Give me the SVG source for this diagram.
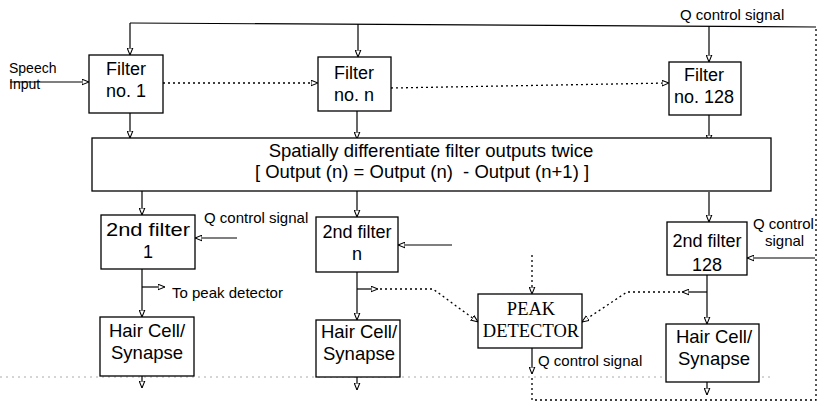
<svg xmlns="http://www.w3.org/2000/svg" width="817" height="403" viewBox="0 0 817 403">
<style>
.box{fill:#fff;stroke:#000;stroke-width:1.3}
.ln{fill:none;stroke:#000;stroke-width:1.2}
.dt{fill:none;stroke:#000;stroke-width:1.3;stroke-dasharray:2,3}
.t{font-family:"Liberation Sans",Arial,sans-serif;font-size:18px;fill:#000;text-anchor:middle}
.h{font-family:"Liberation Sans",Arial,sans-serif;font-size:18.5px;fill:#000;text-anchor:middle}
.s{font-family:"Liberation Sans",Arial,sans-serif;font-size:15px;fill:#000}
.m{font-family:"Liberation Sans",Arial,sans-serif;font-size:18.5px;fill:#000;text-anchor:middle}
.p{font-family:"Liberation Serif","Times New Roman",serif;font-size:18.5px;fill:#000;text-anchor:middle}
</style>
<defs>
<marker id="a" viewBox="0 0 10 10" refX="10" refY="5" markerWidth="7" markerHeight="7" markerUnits="userSpaceOnUse" orient="auto">
<path d="M0,1 L10,5 L0,9 Z" fill="#fff" stroke="#000" stroke-width="1.5"/>
</marker>
</defs>
<line x1="0" y1="377" x2="770" y2="377" stroke="#aaa" stroke-width="1" stroke-dasharray="2,4"/>
<g id="connectors">
<path class="ln" d="M130,23 L816,27"/>
<path class="ln" d="M130,23 V55" marker-end="url(#a)"/>
<path class="ln" d="M358,24 V57" marker-end="url(#a)"/>
<path class="ln" d="M709,26 V62" marker-end="url(#a)"/>
<path class="ln" d="M10,82 H89" marker-end="url(#a)"/>
<path class="dt" d="M163,83 H318" marker-end="url(#a)"/>
<path class="dt" d="M391,88 L669,83" marker-end="url(#a)"/>
<path class="ln" d="M130,113 V138" marker-end="url(#a)"/>
<path class="ln" d="M357,111 V139" marker-end="url(#a)"/>
<path class="ln" d="M709,115 V142" marker-end="url(#a)"/>
<path class="ln" d="M142,190 V215" marker-end="url(#a)"/>
<path class="ln" d="M357,191 V217" marker-end="url(#a)"/>
<path class="ln" d="M709,192 V222" marker-end="url(#a)"/>
<path class="ln" d="M237,238 H195" marker-end="url(#a)"/>
<path class="ln" d="M452,245 H398" marker-end="url(#a)"/>
<path class="ln" d="M815,258 H747" marker-end="url(#a)"/>
<path class="dt" d="M816,29 V400 H532 V375"/>
<path class="dt" d="M532,255 V294" marker-end="url(#a)"/>
<path class="ln" d="M142,269 V317" marker-end="url(#a)"/>
<path class="ln" d="M142,287 H165" marker-end="url(#a)"/>
<path class="ln" d="M142,376 V388" marker-end="url(#a)"/>
<path class="ln" d="M357,272 V320" marker-end="url(#a)"/>
<path class="ln" d="M357,289 H378" marker-end="url(#a)"/>
<path class="dt" d="M380,289 H433 L478,322" marker-end="url(#a)"/>
<path class="ln" d="M357,377 V390" marker-end="url(#a)"/>
<path class="ln" d="M707,275 V324" marker-end="url(#a)"/>
<path class="ln" d="M707,292 H682" marker-end="url(#a)"/>
<path class="dt" d="M680,292 H627 L582,322" marker-end="url(#a)"/>
<path class="ln" d="M707,382 V395" marker-end="url(#a)"/>
<path class="ln" d="M532,348 V374" marker-end="url(#a)"/>
</g>
<g id="labels">
<text class="s" x="9" y="73" style="font-size:14px">Speech</text>
<text class="s" x="9" y="89" style="font-size:14px">Input</text>
<text class="s" x="680" y="20">Q control signal</text>
<text class="s" x="204" y="223">Q control signal</text>
<text class="s" x="753" y="229">Q control</text>
<text class="s" x="765" y="246">signal</text>
<text class="s" x="172" y="298">To peak detector</text>
<text class="s" x="538" y="366">Q control signal</text>
</g>
<g id="filter1"><rect class="box" x="89" y="55" width="74" height="58"/><text class="t" x="126" y="75">Filter</text><text class="t" x="126" y="97">no. 1</text></g>
<g id="filterN"><rect class="box" x="318" y="57" width="73" height="54"/><text class="t" x="354" y="79">Filter</text><text class="t" x="354" y="101">no. n</text></g>
<g id="filter128"><rect class="box" x="669" y="62" width="72" height="53"/><text class="t" x="704" y="81">Filter</text><text class="t" x="704" y="103">no. 128</text></g>
<g id="diff"><rect class="box" x="92" y="138" width="679" height="53"/><text class="m" x="431" y="157">Spatially differentiate filter outputs twice</text><text class="m" x="422" y="178" xml:space="preserve">[ Output (n) = Output (n)  - Output (n+1) ]</text></g>
<g id="f2_1"><rect class="box" x="101" y="215" width="94" height="54"/><text class="t" x="148" y="236" textLength="84" lengthAdjust="spacingAndGlyphs">2nd filter</text><text class="t" x="148" y="258">1</text></g>
<g id="f2_n"><rect class="box" x="316" y="217" width="82" height="55"/><text class="t" x="357" y="238">2nd filter</text><text class="t" x="357" y="260">n</text></g>
<g id="f2_128"><rect class="box" x="667" y="222" width="80" height="53"/><text class="t" x="707" y="247">2nd filter</text><text class="t" x="707" y="271">128</text></g>
<g id="peak"><rect class="box" x="478" y="294" width="104" height="54"/><text class="p" x="531" y="315">PEAK</text><text class="p" x="531" y="337">DETECTOR</text></g>
<g id="hair1"><rect class="box" x="100" y="317" width="94" height="59"/><text class="h" x="147" y="337">Hair Cell/</text><text class="h" x="147" y="359">Synapse</text></g>
<g id="hairN"><rect class="box" x="316" y="320" width="84" height="57"/><text class="h" x="359" y="338">Hair Cell/</text><text class="h" x="359" y="360">Synapse</text></g>
<g id="hair128"><rect class="box" x="666" y="324" width="93" height="58"/><text class="h" x="714" y="343">Hair Cell/</text><text class="h" x="714" y="365">Synapse</text></g>
</svg>
